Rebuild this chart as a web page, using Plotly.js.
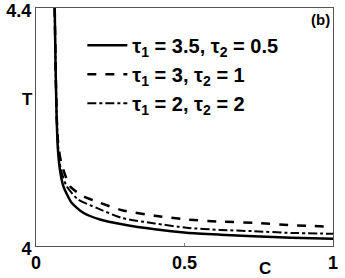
<!DOCTYPE html>
<html>
<head>
<meta charset="utf-8">
<script src="https://cdn.plot.ly/plotly-3.0.1.min.js"></script>
<style>html,body{margin:0;padding:0;background:#fff;}#chart{width:345px;height:278px;}</style>
</head>
<body>
<div id="chart"></div>
<script>
// Data
const seriesNames = ["τ<sub>1</sub> = 3.5, τ<sub>2</sub> = 0.5", "τ<sub>1</sub> = 3, τ<sub>2</sub> = 1", "τ<sub>1</sub> = 2, τ<sub>2</sub> = 2"];
const solidC = [0.063, 0.066, 0.0697, 0.074, 0.080, 0.092, 0.120, 0.159, 0.2155, 0.294, 0.40, 0.507, 0.62, 0.732, 0.86, 1.0];
const solidT = [4.4, 4.3, 4.212, 4.161, 4.13, 4.1005, 4.0726, 4.0558, 4.0445, 4.0361, 4.028, 4.0222, 4.019, 4.0165, 4.014, 4.0121];
const dashC = [0.063, 0.066, 0.070, 0.075, 0.085, 0.1145, 0.159, 0.2155, 0.29, 0.40, 0.507, 0.62, 0.732, 0.86, 1.0];
const dashT = [4.4, 4.3, 4.215, 4.17, 4.14, 4.1005, 4.0837, 4.0726, 4.060, 4.051, 4.0445, 4.041, 4.039, 4.035, 4.0323];
const dashdotC = [0.063, 0.066, 0.070, 0.075, 0.083, 0.103, 0.142, 0.204, 0.29, 0.40, 0.507, 0.62, 0.732, 0.86, 1.0];
const dashdotT = [4.4, 4.3, 4.213, 4.165, 4.13, 4.1005, 4.078, 4.064, 4.047, 4.038, 4.0306, 4.027, 4.0249, 4.022, 4.0205];
const xTicks = [0, 0.5, 1];
const xTickText = ["0", "0.5", "1"];
const yTicks = [4, 4.4];
const yTickText = ["4", "4.4"];

const fontFam = "Liberation Sans, Arial, Helvetica, sans-serif";
const traces = [
  {x: solidC, y: solidT, name: seriesNames[0], mode: "lines", line: {color: "#000", width: 2.5, dash: "solid", shape: "spline", smoothing: 0.6}},
  {x: dashC, y: dashT, name: seriesNames[1], mode: "lines", line: {color: "#000", width: 2.5, dash: "dash", shape: "spline", smoothing: 0.6}},
  {x: dashdotC, y: dashdotT, name: seriesNames[2], mode: "lines", line: {color: "#000", width: 2, dash: "dashdot", shape: "spline", smoothing: 0.6}}
];
const layout = {
  width: 345, height: 278,
  margin: {l: 36, r: 12, t: 8, b: 32, pad: 0},
  paper_bgcolor: "#fff", plot_bgcolor: "#fff",
  font: {family: fontFam, size: 18, color: "#000", weight: "bold"},
  showlegend: true,
  legend: {x: 0.156, y: 0.925, xanchor: "left", yanchor: "top", bgcolor: "rgba(0,0,0,0)", borderwidth: 0,
           itemwidth: 40, font: {family: fontFam, size: 20, weight: "bold"}, tracegroupgap: 0},
  xaxis: {range: [0, 1], tickvals: xTicks, ticktext: xTickText, ticks: "inside", ticklen: 3, tickcolor: "#888",
          showline: true, linecolor: "#555", linewidth: 1, mirror: true, showgrid: false, zeroline: false,
          ticklabeloverflow: "allow",
          tickfont: {family: fontFam, size: 18, weight: "bold"}},
  yaxis: {range: [4, 4.4], tickvals: yTicks, ticktext: yTickText, ticks: "inside", ticklen: 3, tickcolor: "#888",
          showline: true, linecolor: "#555", linewidth: 1, mirror: true, showgrid: false, zeroline: false,
          ticklabeloverflow: "allow", ticklabelshift: 3,
          tickfont: {family: fontFam, size: 18, weight: "bold"}},
  annotations: [
    {text: "T", xref: "paper", yref: "paper", x: -0.005, y: 0.615, xanchor: "right", yanchor: "middle", showarrow: false,
     font: {family: fontFam, size: 17, weight: "bold"}},
    {text: "C", xref: "paper", yref: "paper", x: 0.77, y: -0.095, xanchor: "center", yanchor: "middle", showarrow: false,
     font: {family: fontFam, size: 17, weight: "bold"}},
    {text: "(b)", xref: "paper", yref: "paper", x: 0.995, y: 0.995, xanchor: "right", yanchor: "top", showarrow: false,
     font: {family: fontFam, size: 15, weight: "bold"}}
  ]
};
Plotly.newPlot("chart", traces, layout, {displayModeBar: false, staticPlot: true});
</script>
</body>
</html>
